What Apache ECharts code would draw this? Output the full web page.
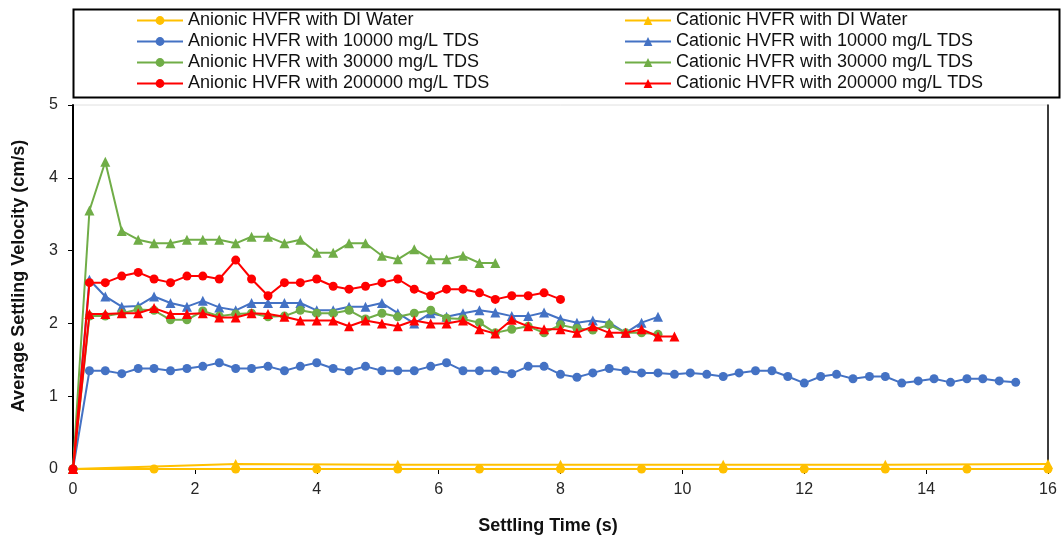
<!DOCTYPE html>
<html>
<head>
<meta charset="utf-8">
<script src="https://cdn.jsdelivr.net/npm/echarts@6/dist/echarts.min.js"></script>
<style>
  html, body { margin: 0; padding: 0; background: #fff; }
  #chart { width: 1064px; height: 540px; }
</style>
</head>
<body>
<div id="chart"></div>
<script>
// ---- data ----
var seriesNames = [
  'Anionic HVFR with DI Water', 'Cationic HVFR with DI Water',
  'Anionic HVFR with 10000 mg/L TDS', 'Cationic HVFR with 10000 mg/L TDS',
  'Anionic HVFR with 30000 mg/L TDS', 'Cationic HVFR with 30000 mg/L TDS',
  'Anionic HVFR with 200000 mg/L TDS', 'Cationic HVFR with 200000 mg/L TDS'
];
var colors = ['#FFC000', '#FFC000', '#4472C4', '#4472C4', '#70AD47', '#70AD47', '#FF0000', '#FF0000'];
var xTitle = 'Settling Time (s)';
var yTitle = 'Average Settling Velocity (cm/s)';

// settling times (s) of the video frames
var times = [0, 0.27, 0.53, 0.8, 1.07, 1.33, 1.6, 1.87, 2.13, 2.4, 2.67, 2.93, 3.2, 3.47, 3.73, 4,
  4.27, 4.53, 4.8, 5.07, 5.33, 5.6, 5.87, 6.13, 6.4, 6.67, 6.93, 7.2, 7.47, 7.73, 8,
  8.27, 8.53, 8.8, 9.07, 9.33, 9.6, 9.87, 10.13, 10.4, 10.67, 10.93, 11.2, 11.47, 11.73, 12,
  12.27, 12.53, 12.8, 13.07, 13.33, 13.6, 13.87, 14.13, 14.4, 14.67, 14.93, 15.2, 15.47];
var diTimesAnionic = [0, 1.33, 2.67, 4, 5.33, 6.67, 8, 9.33, 10.67, 12, 13.33, 14.67, 16];
var diTimesCationic = [0, 2.67, 5.33, 8, 10.67, 13.33, 16];

var anionicDI = [0, 0, 0, 0, 0, 0, 0, 0, 0, 0, 0, 0, 0];
var cationicDI = [0, 0.07, 0.06, 0.06, 0.06, 0.06, 0.07];

var anionic10000 = [0, 1.35, 1.35, 1.31, 1.38, 1.38, 1.35, 1.38, 1.41, 1.46, 1.38,
  1.38, 1.41, 1.35, 1.41, 1.46, 1.38, 1.35, 1.41, 1.35, 1.35,
  1.35, 1.41, 1.46, 1.35, 1.35, 1.35, 1.31, 1.41, 1.41, 1.30,
  1.26, 1.32, 1.38, 1.35, 1.32, 1.32, 1.30, 1.32, 1.30, 1.27,
  1.32, 1.35, 1.35, 1.27, 1.18, 1.27, 1.30, 1.24, 1.27, 1.27,
  1.18, 1.21, 1.24, 1.19, 1.24, 1.24, 1.21, 1.19];
var cationic10000 = [0, 2.60, 2.37, 2.23, 2.24, 2.37, 2.28, 2.23, 2.31, 2.22, 2.18,
  2.28, 2.28, 2.28, 2.28, 2.18, 2.18, 2.23, 2.23, 2.28, 2.14,
  2.00, 2.14, 2.09, 2.14, 2.18, 2.15, 2.10, 2.10, 2.15, 2.06,
  2.01, 2.04, 2.01, 1.87, 2.01, 2.09];
var anionic30000 = [0, 2.10, 2.10, 2.14, 2.19, 2.18, 2.05, 2.05, 2.17, 2.10, 2.13,
  2.14, 2.09, 2.10, 2.18, 2.14, 2.14, 2.18, 2.06, 2.14, 2.09,
  2.14, 2.18, 2.07, 2.06, 2.01, 1.87, 1.92, 1.96, 1.87, 1.98,
  1.93, 1.91, 1.98, 1.87, 1.87, 1.85];
var cationic30000 = [0, 3.55, 4.22, 3.27, 3.15, 3.10, 3.10, 3.15, 3.15, 3.15, 3.10,
  3.19, 3.19, 3.10, 3.15, 2.97, 2.97, 3.10, 3.10, 2.93, 2.88,
  3.02, 2.88, 2.88, 2.93, 2.83, 2.83];
var anionic200000 = [0, 2.56, 2.56, 2.65, 2.70, 2.61, 2.56, 2.65, 2.65, 2.61, 2.87,
  2.61, 2.38, 2.56, 2.56, 2.61, 2.51, 2.47, 2.51, 2.56, 2.61,
  2.47, 2.38, 2.47, 2.47, 2.42, 2.33, 2.38, 2.38, 2.42, 2.33];
var cationic200000 = [0, 2.13, 2.13, 2.14, 2.14, 2.21, 2.13, 2.13, 2.14, 2.08, 2.08,
  2.14, 2.13, 2.09, 2.04, 2.04, 2.04, 1.96, 2.04, 2.00, 1.96,
  2.04, 2.00, 2.00, 2.04, 1.92, 1.86, 2.05, 1.96, 1.92, 1.92,
  1.87, 1.96, 1.87, 1.87, 1.92, 1.82, 1.82];

var xTicks = [0, 2, 4, 6, 8, 10, 12, 14, 16];
var yTicks = [0, 1, 2, 3, 4, 5];

// ---- build ----
function pairs(ts, vs) {
  var out = [];
  for (var i = 0; i < vs.length; i++) out.push([ts[i], vs[i]]);
  return out;
}
var seriesValues = [
  pairs(diTimesAnionic, anionicDI), pairs(diTimesCationic, cationicDI),
  pairs(times, anionic10000), pairs(times, cationic10000),
  pairs(times, anionic30000), pairs(times, cationic30000),
  pairs(times, anionic200000), pairs(times, cationic200000)
];

var FONT = 'Liberation Sans, Arial, sans-serif';
var series = seriesValues.map(function (d, i) {
  var isCat = i % 2 === 1;
  return {
    name: seriesNames[i],
    type: 'line',
    data: d,
    color: colors[i],
    symbol: isCat ? 'triangle' : 'circle',
    symbolSize: isCat ? 10 : 9,
    showAllSymbol: true,
    lineStyle: { width: 2, color: colors[i] },
    itemStyle: { color: colors[i] },
    animation: false,
    z: 2 + i
  };
});

var legendCommon = {
  orient: 'vertical',
  top: 10,
  itemWidth: 46,
  itemHeight: 11,
  itemGap: 0,
  textStyle: { fontFamily: FONT, fontSize: 18, color: '#111', lineHeight: 21 },
  padding: 0
};

var chart = echarts.init(document.getElementById('chart'), null, { renderer: 'canvas' });
chart.setOption({
  backgroundColor: '#fff',
  animation: false,
  grid: { left: 73, right: 16, top: 105, bottom: 71, show: true, borderColor: '#e0e0e0', borderWidth: 1 },
  legend: [
    Object.assign({}, legendCommon, { left: 136, data: [seriesNames[0], seriesNames[2], seriesNames[4], seriesNames[6]] }),
    Object.assign({}, legendCommon, { left: 624, data: [seriesNames[1], seriesNames[3], seriesNames[5], seriesNames[7]] })
  ],
  graphic: [{
    type: 'rect', left: 71, top: 7,
    shape: { x: 0, y: 0, width: 986, height: 88 },
    style: { fill: 'none', stroke: '#000', lineWidth: 2 },
    silent: true
  }, {
    type: 'text', x: 548, y: 526, silent: true,
    style: { text: xTitle, font: 'bold 18px ' + FONT, fill: '#111', align: 'center', verticalAlign: 'middle' }
  }, {
    type: 'text', x: 19, y: 276, rotation: Math.PI / 2, silent: true,
    style: { text: yTitle, font: 'bold 18px ' + FONT, fill: '#111', align: 'center', verticalAlign: 'middle' }
  }],
  xAxis: {
    type: 'value', min: xTicks[0], max: xTicks[xTicks.length - 1], interval: 2,
    axisLine: { show: true, lineStyle: { color: '#000', width: 1.5 } },
    axisTick: { show: true, inside: false, length: 5, lineStyle: { color: '#000' } },
    axisLabel: { fontFamily: FONT, fontSize: 16, color: '#262626', margin: 13 },
    splitLine: { show: false }
  },
  yAxis: [{
    type: 'value', min: yTicks[0], max: yTicks[yTicks.length - 1], interval: 1,
    axisLine: { show: true, lineStyle: { color: '#000', width: 2 } },
    axisTick: { show: true, inside: false, length: 5, lineStyle: { color: '#000' } },
    axisLabel: { fontFamily: FONT, fontSize: 16, color: '#262626', margin: 15 },
    splitLine: { show: false }
  }, {
    type: 'value', position: 'right', min: 0, max: 5, interval: 1,
    axisLine: { show: true, lineStyle: { color: '#000', width: 1.5 } },
    axisTick: { show: false }, axisLabel: { show: false }, splitLine: { show: false }
  }],
  series: series
});
</script>
</body>
</html>
